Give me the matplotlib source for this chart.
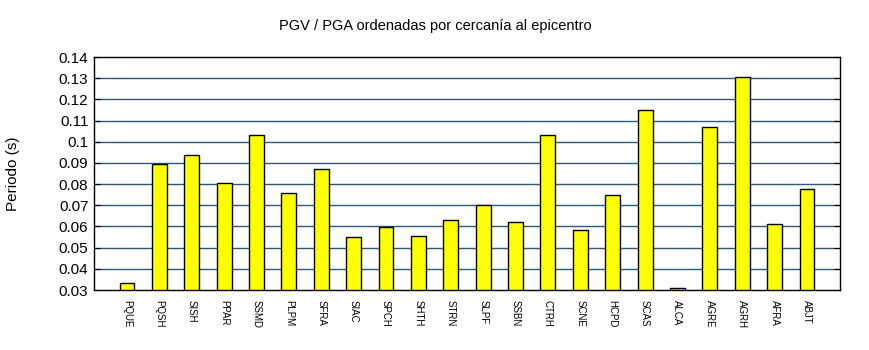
import numpy as np
import matplotlib
matplotlib.use("Agg")
import matplotlib.pyplot as plt

plt.rcParams["font.family"] = ["Liberation Sans", "DejaVu Sans"]

# =========================================================
# DATA
# =========================================================

stations = [
    "PQUE", "PQSH", "SISH", "PPAR", "SSMD", "PLPM", "SFRA", "SIAC",
    "SPCH", "SHTH", "STRN", "SLPF", "SSBN", "CTRH", "SCNE", "HCPD",
    "SCAS", "ALCA", "AGRE", "AGRH", "AFRA", "ABJT",
]

periods = [
    0.0332, 0.0894, 0.0937, 0.0804, 0.1031, 0.0757, 0.0871, 0.0549,
    0.0596, 0.0554, 0.0629, 0.0700, 0.0620, 0.1031, 0.0582, 0.0748,
    0.1149, 0.0308, 0.1069, 0.1306, 0.0610, 0.0776,
]

y_ticks = [0.03, 0.04, 0.05, 0.06, 0.07, 0.08, 0.09, 0.10, 0.11, 0.12, 0.13, 0.14]
y_tick_labels = ["0.03", "0.04", "0.05", "0.06", "0.07", "0.08", "0.09",
                 "0.1", "0.11", "0.12", "0.13", "0.14"]

# =========================================================
# PLOT
# =========================================================

fig = plt.figure(figsize=(8.7, 3.5), dpi=100)

ax = fig.add_axes([0.108, 0.1714, 0.8575, 0.6656])

x = np.arange(len(stations))

ax.bar(
    x,
    np.array(periods) - 0.03,
    bottom=0.03,
    width=0.46,
    color="#ffff00",
    edgecolor="black",
    linewidth=1.0,
    zorder=3
)

ax.set_xlim(-1.02, len(stations) + 0.02)
ax.set_ylim(0.03, 0.14)

ax.set_yticks(y_ticks)
ax.set_yticklabels(y_tick_labels, fontsize=11)

for y in y_ticks[1:-1]:
    ax.axhline(y, color="#2b5877", linewidth=1.0, zorder=1)

ax.tick_params(axis="y", direction="in", length=4, right=True, left=True,
               width=0.8, pad=4)

ax.set_xticks(x)
ax.set_xticklabels(stations, rotation=270, fontsize=7)
ax.tick_params(axis="x", length=0, pad=7)

for spine in ax.spines.values():
    spine.set_linewidth(1.0)

ax.set_ylabel("Periodo (s)", fontsize=11, labelpad=28)

fig.text(0.5, 0.925, "PGV / PGA ordenadas por cercanía al epicentro",
         ha="center", va="center", fontsize=10.5)

fig.savefig("out.png", dpi=100)
plt.close(fig)
